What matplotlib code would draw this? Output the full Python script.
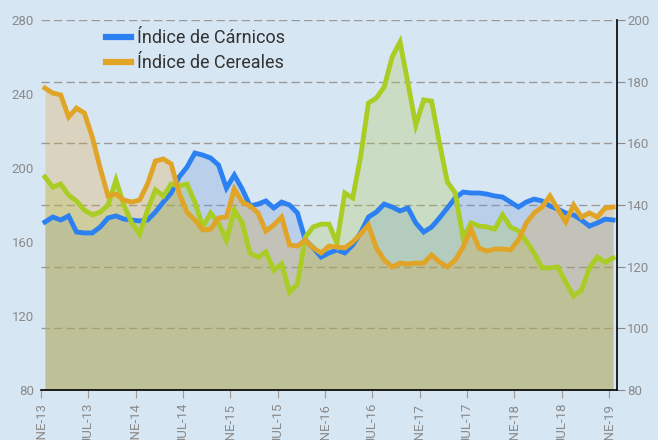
import numpy as np
import matplotlib.pyplot as plt

plt.rcParams['font.family'] = ['Roboto', 'DejaVu Sans']

# monthly values, ENE-13 .. ENE-19
carnicos = [170.8, 173.5, 171.9, 174.1, 165.4, 164.9, 164.9, 168.1, 173.0, 174.1,
            172.4, 171.9, 171.4, 171.9, 176.2, 181.6, 186.5, 195.1, 200.5, 208.1,
            207.0, 205.4, 201.6, 189.2, 196.2, 188.6, 179.5, 180.5, 182.2, 178.4,
            181.6, 180.0, 175.7, 161.1, 156.8, 151.9, 154.1, 155.7, 154.1, 158.4,
            164.9, 173.5, 176.2, 180.5, 178.9, 176.8, 178.4, 170.3, 165.4, 168.1,
            173.0, 178.4, 183.8, 187.0, 186.5, 186.5, 185.9, 184.9, 184.3, 181.6,
            178.9, 181.6, 183.2, 182.2, 179.5, 177.8, 175.7, 174.6, 171.9, 168.6,
            170.3, 172.4, 171.9]
cereales = [243.2, 240.5, 239.5, 227.6, 232.4, 229.7, 216.8, 200.0, 184.9, 185.9,
            182.7, 181.6, 182.7, 191.4, 203.8, 204.9, 202.2, 186.5, 176.2, 171.9,
            166.5, 167.0, 173.0, 173.5, 188.6, 181.6, 179.5, 175.7, 165.9, 169.2,
            173.5, 158.4, 157.8, 161.1, 156.8, 154.1, 157.8, 157.3, 156.8, 160.0,
            164.3, 169.2, 156.8, 150.3, 146.5, 148.6, 148.1, 148.6, 148.6, 153.0,
            149.2, 146.5, 150.3, 157.3, 167.0, 156.8, 155.1, 156.2, 156.2, 155.7,
            161.1, 170.3, 175.7, 178.9, 184.9, 177.8, 170.8, 180.0, 173.5, 175.7,
            173.5, 178.4, 178.9]
# third series, right axis
tercero = [149.1, 145.8, 146.8, 143.2, 141.3, 138.4, 136.8, 137.7, 140.0, 148.1,
           140.0, 134.2, 130.6, 138.4, 144.9, 142.9, 146.8, 146.2, 146.8, 141.0,
           132.9, 137.4, 134.2, 128.6, 138.4, 134.2, 124.4, 123.1, 124.8, 118.9,
           120.9, 111.8, 114.4, 129.6, 132.9, 133.8, 133.8, 127.7, 143.9, 142.3,
           155.6, 173.1, 174.7, 178.3, 188.0, 192.9, 179.6, 165.9, 174.1, 173.7,
           160.1, 147.5, 143.9, 129.3, 134.2, 133.2, 132.9, 132.2, 136.8, 132.9,
           131.6, 128.3, 124.4, 119.6, 119.6, 119.9, 115.0, 110.5, 112.4, 119.6,
           123.1, 121.5, 122.8]
xlabels = ['ENE-13', 'JUL-13', 'ENE-14', 'JUL-14', 'ENE-15', 'JUL-15', 'ENE-16',
           'JUL-16', 'ENE-17', 'JUL-17', 'ENE-18', 'JUL-18', 'ENE-19']

bg = '#d7e6f3'
c_blue = '#2b80f2'
c_orange = '#e0a526'
c_green = '#a9cd24'
f_blue = '#638ed3'
f_orange = '#df9e27'
f_green = '#a7c63b'
grey = '#8a8a8a'

fig = plt.figure(figsize=(6.58, 4.4), dpi=100, facecolor=bg)
fig.subplots_adjust(left=0.0623, right=0.9377, bottom=0.1136, top=0.9545)

ax = fig.add_subplot(1, 1, 1)
ax2 = ax.twinx()
ax.set_zorder(2)
ax2.set_zorder(1)
ax.patch.set_visible(False)
ax2.set_facecolor(bg)

n = len(carnicos)
x = np.arange(n) + 0.5

ax.fill_between(x, carnicos, 80, color=f_blue, alpha=0.25, lw=0)
ax.fill_between(x, tercero, 80, color=f_green, alpha=0.25, lw=0,
                transform=ax2.transData)
ax.fill_between(x, cereales, 80, color=f_orange, alpha=0.25, lw=0)
ax.plot(x, carnicos, color=c_blue, lw=3.5, label='Índice de Cárnicos',
        solid_joinstyle='miter')
ax.plot(x, tercero, color=c_green, lw=3.5, transform=ax2.transData,
        solid_joinstyle='miter')
ax.plot(x, cereales, color=c_orange, lw=3.5, label='Índice de Cereales',
        solid_joinstyle='miter')

ax.set_xlim(0, n)
ax.set_ylim(80, 280)
ax2.set_ylim(80, 200)
ax.set_yticks(np.arange(80, 281, 40))
ax2.set_yticks(np.arange(80, 201, 20))
ax.set_xticks(np.arange(0, n, 6))
ax.set_xticklabels(xlabels)

ax2.grid(axis='y', color='#9a9a9a', lw=1.0, dashes=(6, 3))
ax2.set_axisbelow(True)

for s in ('left', 'top', 'right'):
    ax.spines[s].set_visible(False)
for s in ('left', 'top', 'bottom'):
    ax2.spines[s].set_visible(False)
ax.spines['bottom'].set_color('black')
ax.spines['bottom'].set_linewidth(1.2)
ax2.spines['right'].set_color('black')
ax2.spines['right'].set_linewidth(1.2)

ax.tick_params(axis='y', length=0, pad=5, labelcolor=grey, labelsize=9.5)
ax.tick_params(axis='x', length=6, color='#9a9a9a', pad=3, labelcolor=grey,
               labelsize=9.5, labelrotation=90)
ax2.tick_params(axis='y', length=6, color=grey, pad=1.5, labelcolor=grey,
                labelsize=9.5)

leg = ax.legend(handles=[ax.lines[0], ax.lines[2]],
                loc='upper left', bbox_to_anchor=(0.085, 1.02), frameon=False,
                fontsize=13, handlelength=1.4, handletextpad=0.3,
                labelspacing=0.4)
for line in leg.get_lines():
    line.set_linewidth(4.5)
for t in leg.get_texts():
    t.set_color('#333333')

fig.savefig('out.png', dpi=100, facecolor=bg)
